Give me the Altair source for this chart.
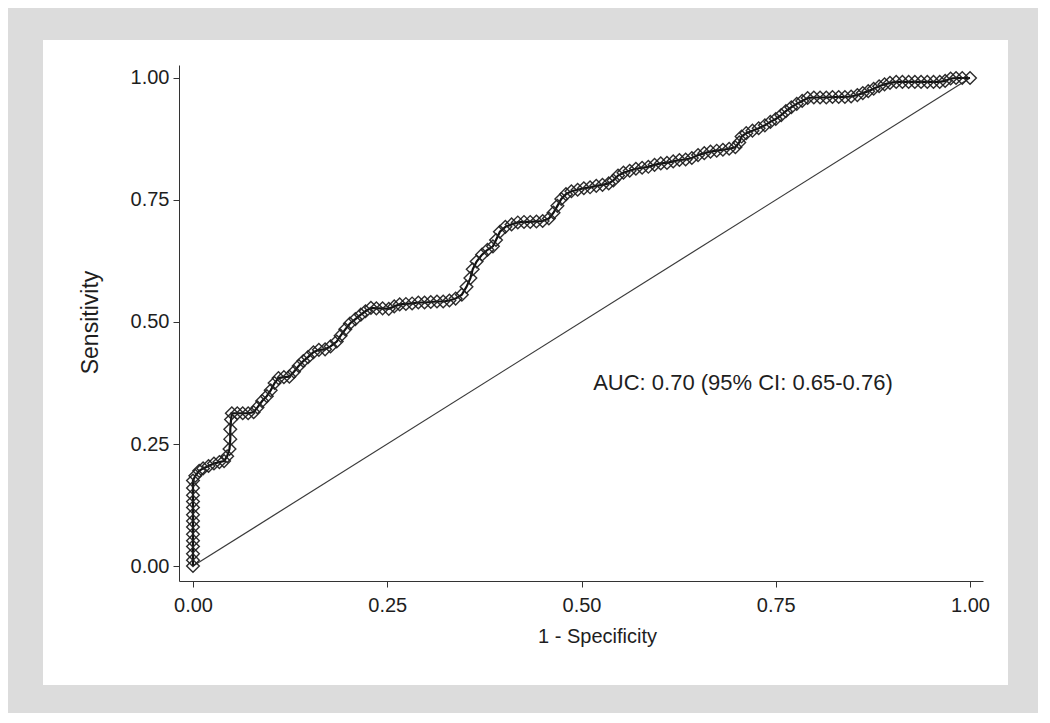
import altair as alt
import pandas as pd

# ROC curve coordinates (1 - specificity, sensitivity)
fpr = [0.0, 0.0, 0.0, 0.0, 0.0, 0.0, 0.0, 0.0, 0.0, 0.0, 0.0, 0.0, 0.0, 0.0,
       0.003, 0.008, 0.013, 0.02, 0.027, 0.034, 0.04, 0.044, 0.047, 0.048, 0.048, 0.049, 0.05,
       0.057, 0.064, 0.071, 0.078, 0.083, 0.089, 0.095, 0.1, 0.105, 0.11, 0.117, 0.124,
       0.13, 0.136, 0.142, 0.148, 0.155, 0.162, 0.17, 0.177, 0.185, 0.19, 0.196, 0.202,
       0.209, 0.216, 0.222, 0.229, 0.236, 0.244, 0.252, 0.259, 0.266, 0.274, 0.282, 0.29,
       0.298, 0.306, 0.314, 0.322, 0.33, 0.338, 0.346, 0.352, 0.357, 0.36, 0.365, 0.372,
       0.379, 0.386, 0.39, 0.395, 0.402, 0.41, 0.418, 0.426, 0.434, 0.442, 0.45, 0.458,
       0.464, 0.469, 0.474, 0.48, 0.487, 0.495, 0.503, 0.511, 0.519, 0.527, 0.535, 0.541,
       0.547, 0.554, 0.562, 0.57, 0.578, 0.586, 0.594, 0.602, 0.61, 0.618, 0.626, 0.634,
       0.642, 0.65, 0.658, 0.666, 0.674, 0.682, 0.69, 0.698, 0.703, 0.706, 0.712, 0.72,
       0.728, 0.736, 0.743, 0.75, 0.757, 0.763, 0.77, 0.777, 0.784, 0.791, 0.799, 0.807,
       0.815, 0.823, 0.831, 0.839, 0.847, 0.855, 0.862, 0.869, 0.876, 0.883, 0.89, 0.897,
       0.905, 0.913, 0.921, 0.929, 0.937, 0.945, 0.953, 0.961, 0.968, 0.975, 0.982, 0.99, 1.0]
tpr = [0.0, 0.012, 0.025, 0.04, 0.052, 0.065, 0.08, 0.092, 0.105, 0.12, 0.132, 0.145, 0.16, 0.175,
       0.185, 0.195, 0.2, 0.205, 0.21, 0.213, 0.215, 0.225, 0.24, 0.26, 0.28, 0.3, 0.313,
       0.313, 0.313, 0.313, 0.315, 0.325, 0.338, 0.348, 0.36, 0.375, 0.385, 0.387, 0.388,
       0.398, 0.41, 0.42, 0.428, 0.438, 0.443, 0.444, 0.45, 0.46, 0.472, 0.485, 0.497,
       0.506, 0.515, 0.522, 0.529, 0.528, 0.528, 0.527, 0.532, 0.536, 0.537, 0.538, 0.54,
       0.54, 0.541, 0.542, 0.542, 0.544, 0.548, 0.556, 0.572, 0.59, 0.608, 0.624, 0.638,
       0.648, 0.655, 0.668, 0.685, 0.695, 0.7, 0.704, 0.705, 0.705, 0.706, 0.707, 0.712,
       0.724, 0.738, 0.752, 0.762, 0.768, 0.771, 0.774, 0.776, 0.779, 0.781, 0.784, 0.79,
       0.8, 0.806, 0.81, 0.814, 0.816, 0.818, 0.822, 0.825, 0.826, 0.829, 0.832, 0.833,
       0.836, 0.842, 0.846, 0.849, 0.851, 0.853, 0.855, 0.858, 0.868, 0.88, 0.887, 0.892,
       0.897, 0.903, 0.91, 0.916, 0.924, 0.932, 0.94, 0.947, 0.953, 0.959, 0.96, 0.96,
       0.96, 0.961, 0.961, 0.961, 0.962, 0.965, 0.969, 0.973, 0.978, 0.983, 0.987, 0.99,
       0.992, 0.992, 0.992, 0.992, 0.992, 0.992, 0.992, 0.992, 0.994, 0.999, 1.0, 1.0, 1.0]

diag_x = [0.0, 1.0]
diag_y = [0.0, 1.0]

tick_values = [0.0, 0.25, 0.5, 0.75, 1.0]
x_title = "1 - Specificity"
y_title = "Sensitivity"
auc_label = "AUC: 0.70 (95% CI: 0.65-0.76)"
auc_pos = {"x": [0.515], "y": [0.375], "label": [auc_label]}

roc = pd.DataFrame({"fpr": fpr, "tpr": tpr, "order": list(range(len(fpr)))})
diag = pd.DataFrame({"fpr": diag_x, "tpr": diag_y})
ann = pd.DataFrame(auc_pos)

W, H = 804, 516
FONT = "Liberation Sans"
INK = "#1e1e1e"

xscale = alt.Scale(domain=[-0.018, 1.0167], nice=False, zero=False)
yscale = alt.Scale(domain=[-0.0307, 1.0266], nice=False, zero=False)

xaxis = alt.Axis(values=tick_values, format=".2f", title=x_title, grid=False, zindex=2,
                 tickSize=6, labelPadding=8, domainColor="#333", tickColor="#333",
                 labelFontSize=20, titleFontSize=20, labelFont=FONT, titleFont=FONT,
                 labelColor=INK, titleColor=INK, titleFontWeight="normal",
                 titleX=418, titleY=55, titleBaseline="middle", titleAlign="center")
yaxis = alt.Axis(values=tick_values, format=".2f", title=y_title, grid=False, zindex=2,
                 tickSize=6, labelPadding=4, domainColor="#333", tickColor="#333",
                 labelFontSize=20, titleFontSize=23, labelFont=FONT, titleFont=FONT,
                 labelColor=INK, titleColor=INK, titleFontWeight="normal",
                 titleX=-89, titleY=257, titleAngle=-90, titleBaseline="middle",
                 titleAlign="center")

panel = alt.Chart(pd.DataFrame({"k": [0]})).mark_rect(color="white").encode(
    x=alt.value(-136), x2=alt.value(829), y=alt.value(-25), y2=alt.value(620)
)

diag_line = alt.Chart(diag).mark_line(color="#3a3a3a", strokeWidth=1.2).encode(
    x=alt.X("fpr:Q", scale=xscale, axis=xaxis),
    y=alt.Y("tpr:Q", scale=yscale, axis=yaxis),
)

roc_line = alt.Chart(roc).mark_line(color="#111", strokeWidth=2.2).encode(
    x=alt.X("fpr:Q", scale=xscale, axis=xaxis),
    y=alt.Y("tpr:Q", scale=yscale, axis=yaxis),
    order="order:Q",
)

roc_pts = alt.Chart(roc).mark_point(shape="diamond", filled=False, size=160,
                                    color="#222", strokeWidth=1.4, opacity=0.95).encode(
    x=alt.X("fpr:Q", scale=xscale, axis=xaxis),
    y=alt.Y("tpr:Q", scale=yscale, axis=yaxis),
)

text = alt.Chart(ann).mark_text(align="left", baseline="middle", font=FONT,
                                fontSize=22, color=INK).encode(
    x=alt.X("x:Q", scale=xscale, axis=xaxis),
    y=alt.Y("y:Q", scale=yscale, axis=yaxis),
    text="label:N",
)

chart = alt.layer(panel, diag_line, roc_line, roc_pts, text).properties(
    width=W, height=H,
    autosize=alt.AutoSizeParams(type="none"),
    padding={"left": 171, "top": 57, "right": 55, "bottom": 132},
    background="#dcdcdc",
).configure_view(stroke=None)

chart.save("out.html", embed_options={"renderer": "svg", "actions": False})
